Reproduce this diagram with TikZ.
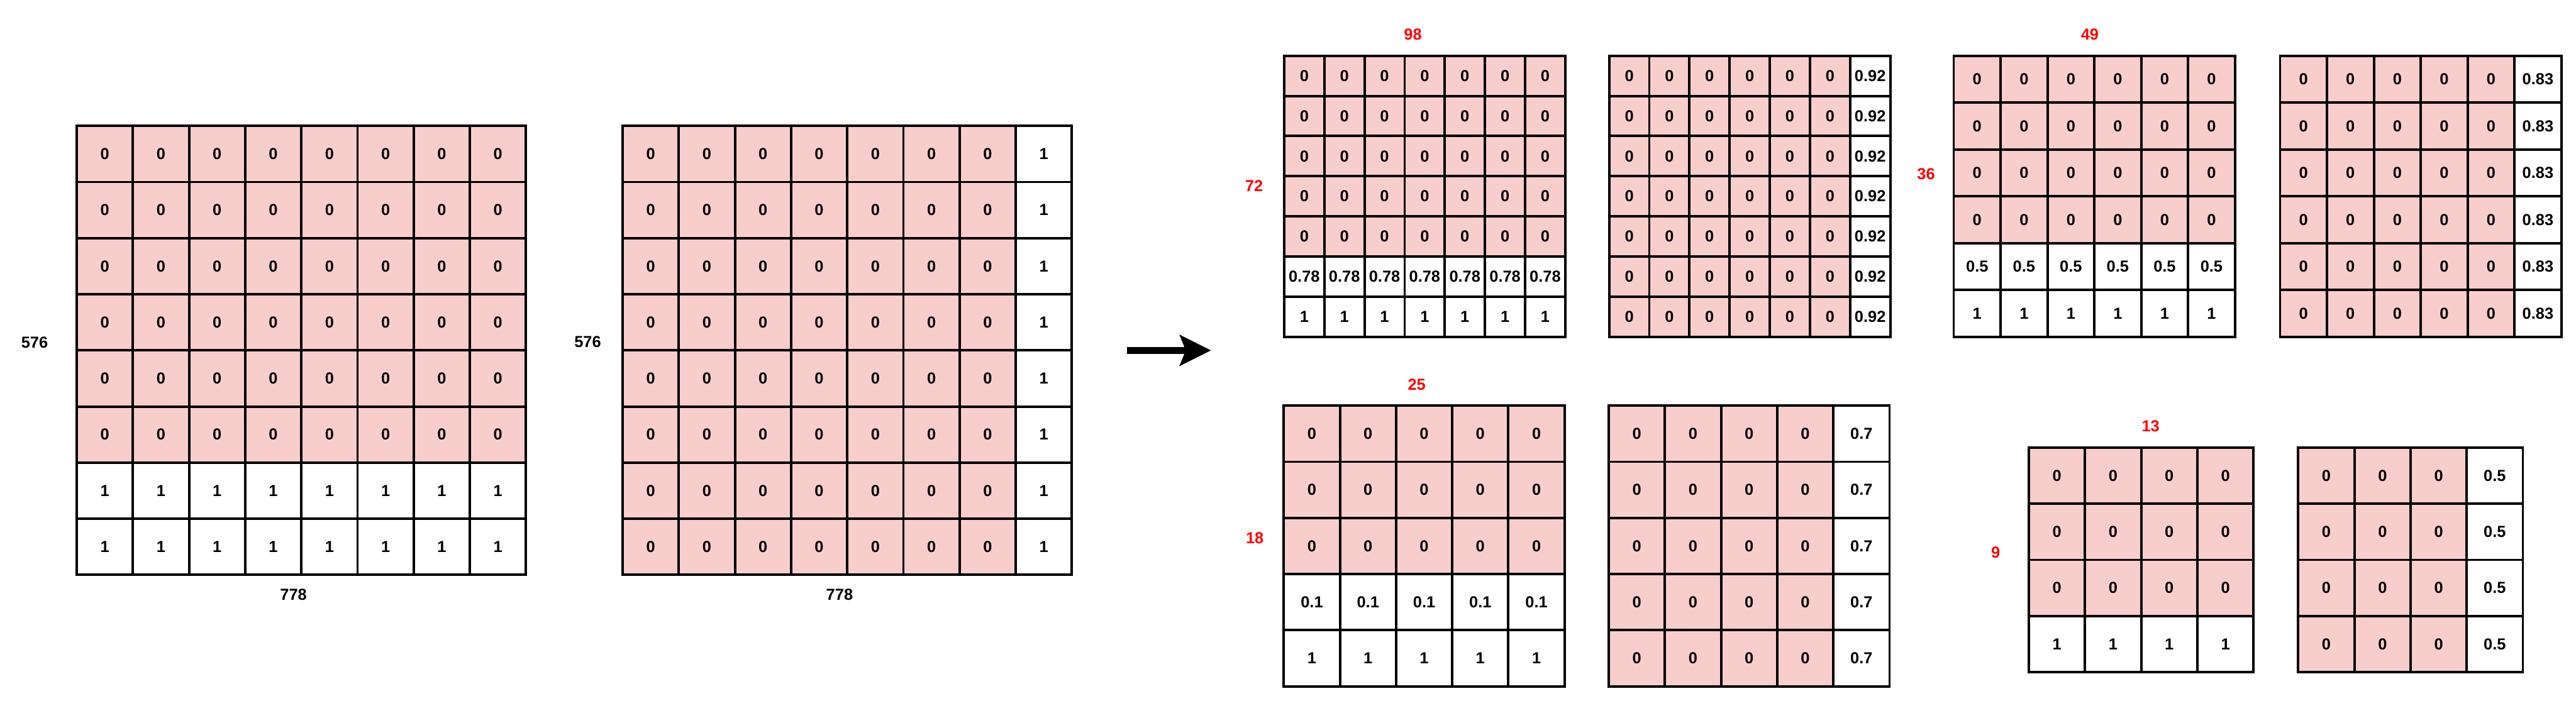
\documentclass[tikz,border=0pt]{standalone}
\usepackage{fontspec}
\setmainfont{Liberation Sans}
\usetikzlibrary{arrows.meta}
\definecolor{cellpink}{HTML}{F8CECC}
\begin{document}
\begin{tikzpicture}[>=Stealth, y=-1cm, font=\bfseries\fontsize{13}{15}\selectfont]
    \tikzset{cell/.style={draw, line width=2pt, minimum size=#1, inner sep=0pt, outer sep=0pt},
             dimlab/.style={inner sep=1pt},
             sizelab/.style={inner sep=1pt, text=red}}
    \useasboundingbox (0,0) rectangle (73.64,20.04);
    % input masks
    \foreach \r/\v/\f in {0/0/cellpink,1/0/cellpink,2/0/cellpink,3/0/cellpink,4/0/cellpink,5/0/cellpink,6/1/white,7/1/white}
        \foreach \c in {0,...,7}
            \node[cell=1.605cm, fill=\f] (ma-\r-\c) at ({2.195+(\c+0.5)*1.605},{3.60+(\r+0.5)*1.605}) {\v};
    \foreach \c/\v/\f in {0/0/cellpink,1/0/cellpink,2/0/cellpink,3/0/cellpink,4/0/cellpink,5/0/cellpink,6/0/cellpink,7/1/white}
        \foreach \r in {0,...,7}
            \node[cell=1.605cm, fill=\f] (mb-\r-\c) at ({17.80+(\c+0.5)*1.605},{3.60+(\r+0.5)*1.605}) {\v};
    \node[dimlab] (ha) at (0.99,9.80) {576};
    \node[dimlab] (wa) at (8.39,17.01) {778};
    \node[dimlab] (hb) at (16.80,9.78) {576};
    \node[dimlab] (wb) at (24.00,17.01) {778};
    \coordinate (arrS) at (32.22,10.02);
    \coordinate (arrE) at (34.62,10.02);
    \draw[line width=5.4pt, -{Stealth[length=0.89cm, width=0.87cm, inset=0.17cm]}] (arrS) -- (arrE);
    % 98 x 72
    \foreach \r/\v/\f in {0/0/cellpink,1/0/cellpink,2/0/cellpink,3/0/cellpink,4/0/cellpink,5/0.78/white,6/1/white}
        \foreach \c in {0,...,6}
            \node[cell=1.148cm, fill=\f] (s98a-\r-\c) at ({36.71+(\c+0.5)*1.148},{1.595+(\r+0.5)*1.148}) {\v};
    \foreach \c/\v/\f in {0/0/cellpink,1/0/cellpink,2/0/cellpink,3/0/cellpink,4/0/cellpink,5/0/cellpink,6/0.92/white}
        \foreach \r in {0,...,6}
            \node[cell=1.148cm, fill=\f] (s98b-\r-\c) at ({46.00+(\c+0.5)*1.148},{1.595+(\r+0.5)*1.148}) {\v};
    \node[sizelab] (w98) at (40.39,0.99) {98};
    \node[sizelab] (h72) at (35.85,5.32) {72};
    % 49 x 36
    \foreach \r/\v/\f in {0/0/cellpink,1/0/cellpink,2/0/cellpink,3/0/cellpink,4/0.5/white,5/1/white}
        \foreach \c in {0,...,5}
            \node[cell=1.34cm, fill=\f] (s49a-\r-\c) at ({55.85+(\c+0.5)*1.34},{1.595+(\r+0.5)*1.34}) {\v};
    \foreach \c/\v/\f in {0/0/cellpink,1/0/cellpink,2/0/cellpink,3/0/cellpink,4/0/cellpink,5/0.83/white}
        \foreach \r in {0,...,5}
            \node[cell=1.34cm, fill=\f] (s49b-\r-\c) at ({65.18+(\c+0.5)*1.34},{1.595+(\r+0.5)*1.34}) {\v};
    \node[sizelab] (w49) at (59.74,0.99) {49};
    \node[sizelab] (h36) at (55.06,4.97) {36};
    % 25 x 18
    \foreach \r/\v/\f in {0/0/cellpink,1/0/cellpink,2/0/cellpink,3/0.1/white,4/1/white}
        \foreach \c in {0,...,4}
            \node[cell=1.605cm, fill=\f] (s25a-\r-\c) at ({36.70+(\c+0.5)*1.605},{11.60+(\r+0.5)*1.605}) {\v};
    \foreach \c/\v/\f in {0/0/cellpink,1/0/cellpink,2/0/cellpink,3/0/cellpink,4/0.7/white}
        \foreach \r in {0,...,4}
            \node[cell=1.605cm, fill=\f] (s25b-\r-\c) at ({45.99+(\c+0.5)*1.605},{11.60+(\r+0.5)*1.605}) {\v};
    \node[sizelab] (w25) at (40.50,10.99) {25};
    \node[sizelab] (h18) at (35.87,15.38) {18};
    % 13 x 9
    \foreach \r/\v/\f in {0/0/cellpink,1/0/cellpink,2/0/cellpink,3/1/white}
        \foreach \c in {0,...,3}
            \node[cell=1.605cm, fill=\f] (s13a-\r-\c) at ({58.00+(\c+0.5)*1.605},{12.80+(\r+0.5)*1.605}) {\v};
    \foreach \c/\v/\f in {0/0/cellpink,1/0/cellpink,2/0/cellpink,3/0.5/white}
        \foreach \r in {0,...,3}
            \node[cell=1.605cm, fill=\f] (s13b-\r-\c) at ({65.70+(\c+0.5)*1.605},{12.80+(\r+0.5)*1.605}) {\v};
    \node[sizelab] (w13) at (61.48,12.18) {13};
    \node[sizelab] (h9) at (57.05,15.79) {9};
\end{tikzpicture}
\end{document}
